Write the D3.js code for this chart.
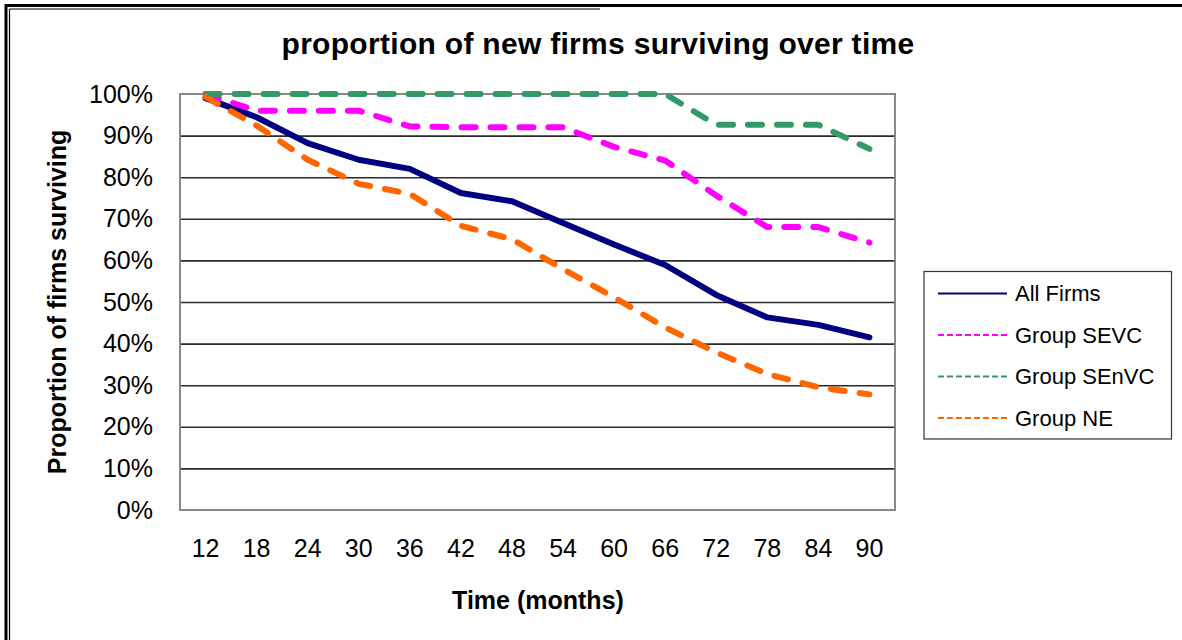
<!DOCTYPE html>
<html>
<head>
<meta charset="utf-8">
<script src="https://cdn.jsdelivr.net/npm/d3@7"></script>
<style>
  html, body { margin: 0; padding: 0; background: #fff; }
  svg { display: block; font-family: "Liberation Sans", Arial, sans-serif; }
</style>
</head>
<body>
<svg id="chart" width="1182" height="640"></svg>
<script>
// ---- data ----
const months = ["12","18","24","30","36","42","48","54","60","66","72","78","84","90"];
const allFirms   = [0.99, 0.944, 0.882, 0.842, 0.820, 0.762, 0.742, 0.690, 0.638, 0.589, 0.517, 0.463, 0.445, 0.415];
const groupSEVC  = [1.00, 0.960, 0.960, 0.960, 0.922, 0.920, 0.920, 0.920, 0.873, 0.840, 0.756, 0.680, 0.680, 0.643];
const groupSEnVC = [1.00, 1.000, 1.000, 1.000, 1.000, 1.000, 1.000, 1.000, 1.000, 1.000, 0.926, 0.926, 0.926, 0.868];
const groupNE    = [0.993, 0.924, 0.842, 0.784, 0.760, 0.683, 0.651, 0.579, 0.511, 0.439, 0.379, 0.327, 0.295, 0.278];
const seriesNames = ["All Firms", "Group SEVC", "Group SEnVC", "Group NE"];
const yTicks = [0, 0.1, 0.2, 0.3, 0.4, 0.5, 0.6, 0.7, 0.8, 0.9, 1.0];
const titleText = "proportion of new firms surviving over time";
const xTitle = "Time (months)";
const yTitle = "Proportion of firms surviving";

// ---- styles ----
const colors = ["#000080", "#FF00FF", "#339966", "#FF6600"];
const dashes = [null, "14,15", "14,15", "14,15"];
const legendDashes = [null, "6,3", "6,3", "6,3"];

const series = seriesNames.map((name, i) => ({
  name,
  values: [allFirms, groupSEVC, groupSEnVC, groupNE][i],
  color: colors[i],
  dash: dashes[i],
  legendDash: legendDashes[i]
}));

const svg = d3.select("#chart");
const plot = { left: 180, right: 895, top: 94, bottom: 510 };

// frame (double line on top/left)
svg.append("line").attr("x1", 6).attr("y1", 5.5).attr("x2", 1182).attr("y2", 5.5)
  .attr("stroke", "#000").attr("stroke-width", 3);
svg.append("line").attr("x1", 6).attr("y1", 4).attr("x2", 6).attr("y2", 640)
  .attr("stroke", "#000").attr("stroke-width", 3);
svg.append("line").attr("x1", 9.5).attr("y1", 9).attr("x2", 600).attr("y2", 9)
  .attr("stroke", "#000").attr("stroke-width", 1.2);
svg.append("line").attr("x1", 9.5).attr("y1", 9).attr("x2", 9.5).attr("y2", 640)
  .attr("stroke", "#000").attr("stroke-width", 1.2);

const x = d3.scaleBand().domain(months).range([plot.left, plot.right]).padding(0);
const y = d3.scaleLinear().domain([0, 1]).range([plot.bottom, plot.top]);
const px = m => x(m) + x.bandwidth() / 2;

// gridlines
const grid = svg.append("g").attr("transform", `translate(${plot.left},0)`)
  .call(d3.axisLeft(y).tickValues(yTicks.filter(t => t > 0 && t < 1))
    .tickSize(-(plot.right - plot.left)).tickFormat(""));
grid.select(".domain").remove();
grid.selectAll(".tick line").attr("stroke", "#2a2a2a").attr("stroke-width", 1.6);

// plot border
svg.append("rect")
  .attr("x", plot.left).attr("y", plot.top)
  .attr("width", plot.right - plot.left).attr("height", plot.bottom - plot.top)
  .attr("fill", "none").attr("stroke", "#888").attr("stroke-width", 2);

// y axis labels
const yAxis = svg.append("g").attr("transform", `translate(${plot.left},0)`)
  .call(d3.axisLeft(y).tickValues(yTicks).tickSize(0).tickPadding(27)
    .tickFormat(d => Math.round(d * 100) + "%"));
yAxis.select(".domain").remove();
yAxis.selectAll("text").attr("font-size", 25).attr("fill", "#000")
  .attr("font-family", "Liberation Sans, Arial, sans-serif");

// x axis labels
const xAxis = svg.append("g").attr("transform", `translate(0,${plot.bottom})`)
  .call(d3.axisBottom(x).tickSize(0).tickPadding(29));
xAxis.select(".domain").remove();
xAxis.selectAll("text").attr("font-size", 25).attr("fill", "#000")
  .attr("font-family", "Liberation Sans, Arial, sans-serif");

// lines
const line = d3.line().x((d, i) => px(months[i])).y(d => y(d)).curve(d3.curveLinear);
svg.append("g").selectAll("path").data(series).join("path")
  .attr("d", s => line(s.values))
  .attr("fill", "none")
  .attr("stroke", s => s.color)
  .attr("stroke-width", 6)
  .attr("stroke-linejoin", "round")
  .attr("stroke-linecap", "round")
  .attr("stroke-dasharray", s => s.dash);

// titles
svg.append("text").attr("x", 598).attr("y", 54).attr("text-anchor", "middle")
  .attr("font-size", 30).attr("font-weight", "bold").attr("letter-spacing", 0.3).text(titleText);
svg.append("text").attr("x", 538).attr("y", 609).attr("text-anchor", "middle")
  .attr("font-size", 25).attr("font-weight", "bold").text(xTitle);
svg.append("text").attr("transform", `translate(66,${(plot.top + plot.bottom) / 2}) rotate(-90)`)
  .attr("text-anchor", "middle").attr("font-size", 25).attr("font-weight", "bold").text(yTitle);

// legend
const lg = svg.append("g");
lg.append("rect").attr("x", 924).attr("y", 271.5).attr("width", 247.5).attr("height", 167.5)
  .attr("fill", "#fff").attr("stroke", "#333").attr("stroke-width", 1.2);
const rowY = d3.scalePoint().domain(seriesNames).range([293.5, 418]);
const items = lg.selectAll("g.item").data(series).join("g").attr("class", "item")
  .attr("transform", s => `translate(0,${rowY(s.name)})`);
items.append("line").attr("x1", 938).attr("x2", 1007).attr("y1", 0).attr("y2", 0)
  .attr("stroke", s => s.color).attr("stroke-width", 2.2)
  .attr("stroke-dasharray", s => s.legendDash);
items.append("text").attr("x", 1015).attr("y", 0).attr("dy", "0.35em")
  .attr("font-size", 22).text(s => s.name);
</script>
</body>
</html>
